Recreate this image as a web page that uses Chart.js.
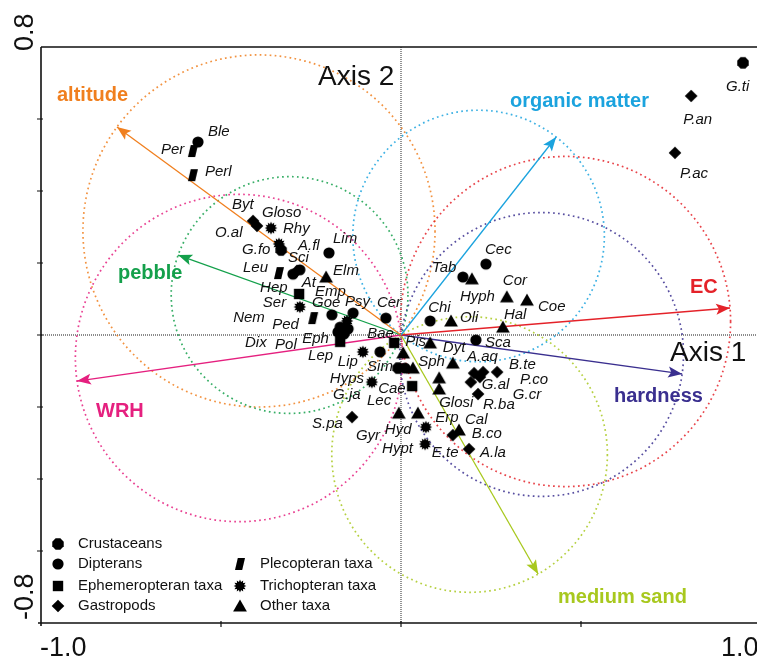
<!DOCTYPE html>
<html lang="en">
<head>
<meta charset="UTF-8">
<title>Ordination biplot</title>
<script src="https://cdn.jsdelivr.net/npm/chart.js@4.4.0/dist/chart.umd.min.js"></script>
<style>
    html, body { margin: 0; padding: 0; background: #fff; overflow: hidden; }
    #wrap { width: 770px; height: 658px; }
</style>
</head>
<body>
<div id="wrap"><canvas id="biplot" width="770" height="658"></canvas></div>
<script>
// Taxa scores (axis 1, axis 2) and group codes
const speciesNames = ['G.ti','P.an','P.ac','Ble','Per','Perl','Byt','O.al','Gloso','Rhy','G.fo','A.fl','Sci','At','Lim','Leu','Elm','Hep','Emp','Ser','Goe','Psy','Cer','Nem','Ped','Dix','Pol','Lep','Eph','Bae','Lip','Sim','Pis','Sph','Hyps','Cae','G.ja','Lec','','S.pa','Hyd','Gyr','Hypt','E.te','Cec','Tab','Hyph','Cor','Coe','Chi','Oli','Hal','Sca','Dyt','A.aq','P.co','B.te','G.al','G.cr','R.ba','Glosi','Erp','Cal','B.co','A.la'];
const speciesX = [0.950,0.806,0.761,-0.564,-0.578,-0.578,-0.411,-0.400,-0.361,-0.339,-0.333,-0.289,-0.300,-0.281,-0.200,-0.339,-0.208,-0.283,-0.192,-0.281,-0.150,-0.133,-0.042,-0.244,-0.169,-0.175,-0.158,-0.147,-0.169,-0.019,-0.106,-0.058,0.081,0.006,-0.081,0.031,-0.008,0.011,0.033,-0.136,-0.006,0.047,0.067,0.069,0.236,0.172,0.197,0.294,0.350,0.081,0.139,0.283,0.208,0.144,0.203,0.228,0.267,0.194,0.219,0.214,0.106,0.106,0.161,0.144,0.189];
const speciesY = [0.756,0.664,0.506,0.536,0.511,0.444,0.317,0.303,0.297,0.253,0.236,0.178,0.169,0.181,0.228,0.172,0.161,0.114,0.056,0.078,0.039,0.061,0.047,0.047,0.022,0.008,0.003,0.017,-0.019,-0.022,-0.047,-0.047,-0.022,-0.050,-0.131,-0.142,-0.092,-0.092,-0.092,-0.228,-0.217,-0.217,-0.303,-0.256,0.197,0.161,0.156,0.106,0.097,0.039,0.039,0.022,-0.014,-0.078,-0.106,-0.103,-0.103,-0.131,-0.117,-0.164,-0.119,-0.150,-0.264,-0.278,-0.317];
const speciesGroup = ['C','G','G','D','P','P','G','G','T','T','C','G','D','D','D','P','O','E','D','T','T','D','D','P','D','D','D','D','E','E','T','D','O','O','T','E','C','D','O','G','O','O','T','T','D','D','O','O','O','D','O','O','D','O','G','G','G','G','G','G','O','O','O','G','G'];

const groupCodes = ['C','D','E','G','P','T','O'];
const groupNames = ['Crustaceans','Dipterans','Ephemeropteran taxa','Gastropods','Plecopteran taxa','Trichopteran taxa','Other taxa'];

// Environmental vectors
const envNames = ['altitude','organic matter','pebble','EC','WRH','hardness','medium sand'];
const envX = [-0.789, 0.431, -0.619, 0.914, -0.900, 0.781, 0.381];
const envY = [0.578, 0.550, 0.222, 0.075, -0.128, -0.108, -0.664];

// Axis ticks
const xTickValues = [-0.5, 0, 0.5];
const yTickValues = [0.6, 0.4, 0.2, 0, -0.2, -0.4, -0.6];
const xTickLabels = ['-1.0', '1.0'];
const yTickLabels = ['0.8', '-0.8'];

// Styles
const envColors = ['#F07F1E', '#1BA3DE', '#14A04B', '#E42229', '#E5207F', '#3A2F8F', '#A8C81E'];
const envLabelPos = [[57, 95], [510, 101], [118, 273], [690, 287], [96, 411], [614, 396], [558, 597]];
const groupMarker = { C: 'octagon', D: 'circle', E: 'square', G: 'diamond', P: 'parallelogram', T: 'burst', O: 'triangle' };
const labelOffset = {
    'G.ti': [-17, 24], 'P.an': [-8, 24], 'P.ac': [5, 21], 'Ble': [10, -10], 'Per': [-32, -1], 'Perl': [12, -3],
    'Byt': [-21, -16], 'O.al': [-42, 7], 'Gloso': [-9, -15], 'Rhy': [4, -15], 'G.fo': [-39, 0], 'A.fl': [1, -25],
    'Sci': [-5, -16], 'At': [2, 13], 'Lim': [4, -14], 'Leu': [-36, -5], 'Elm': [7, -6], 'Hep': [-39, -6],
    'Emp': [-17, -23], 'Ser': [-37, -4], 'Goe': [-35, -18], 'Psy': [-8, -11], 'Cer': [-9, -15], 'Nem': [-80, 0],
    'Ped': [-68, -2], 'Dix': [-93, 11], 'Pol': [-69, 11], 'Lep': [-40, 27], 'Eph': [-38, -3], 'Bae': [-27, -9],
    'Lip': [-25, 10], 'Sim': [-13, 15], 'Pis': [-25, -1], 'Sph': [15, 9], 'Hyps': [-42, -3], 'Cae': [-34, 3],
    'G.ja': [-65, 27], 'Lec': [-38, 33], 'S.pa': [-40, 7], 'Hyd': [-14, 17], 'Gyr': [-62, 23], 'Hypt': [-43, 5],
    'E.te': [6, 26], 'Cec': [-1, -14], 'Tab': [-31, -9], 'Hyph': [-12, 18], 'Cor': [-4, -16], 'Coe': [11, 7],
    'Chi': [-2, -13], 'Oli': [9, -3], 'Hal': [1, -12], 'Sca': [9, 3], 'Dyt': [-10, -15], 'A.aq': [-7, -16],
    'P.co': [37, 8], 'B.te': [12, -7], 'G.al': [11, 3], 'G.cr': [33, 18], 'R.ba': [5, 11], 'Glosi': [0, 25],
    'Erp': [-4, 29], 'Cal': [6, -10], 'B.co': [19, -1], 'A.la': [11, 4]
};
const FONT = "'Liberation Sans', Arial, sans-serif";

function makeMarker(kind) {
    const c = document.createElement('canvas');
    c.width = 16; c.height = 16;
    const g = c.getContext('2d');
    g.fillStyle = '#000';
    g.translate(8, 8);
    g.beginPath();
    if (kind === 'octagon') {
        for (let i = 0; i < 8; i++) {
            const a = Math.PI / 8 + i * Math.PI / 4;
            g.lineTo(6.2 * Math.cos(a), 6.2 * Math.sin(a));
        }
    } else if (kind === 'circle') {
        g.arc(0, 0, 5.6, 0, Math.PI * 2);
    } else if (kind === 'square') {
        g.rect(-5.2, -5.2, 10.4, 10.4);
    } else if (kind === 'diamond') {
        g.moveTo(0, -6.3); g.lineTo(6.3, 0); g.lineTo(0, 6.3); g.lineTo(-6.3, 0);
    } else if (kind === 'parallelogram') {
        g.moveTo(-2.2, -6); g.lineTo(5, -6); g.lineTo(2.2, 6); g.lineTo(-5, 6);
    } else if (kind === 'burst') {
        for (let i = 0; i < 24; i++) {
            const r = i % 2 ? 4.2 : 6.4;
            const a = i * Math.PI / 12;
            g.lineTo(r * Math.cos(a), r * Math.sin(a));
        }
    } else if (kind === 'triangle') {
        g.moveTo(0, -6.4); g.lineTo(6.9, 5.6); g.lineTo(-6.9, 5.6);
    }
    g.closePath();
    g.fill();
    return c;
}

const markers = {};
groupCodes.forEach(code => { markers[code] = makeMarker(groupMarker[code]); });

// Build datasets
const datasets = [];
groupCodes.forEach((code, gi) => {
    const pts = [];
    speciesNames.forEach((name, i) => {
        if (speciesGroup[i] === code) pts.push({ x: speciesX[i], y: speciesY[i], name: name });
    });
    datasets.push({
        label: groupNames[gi],
        data: pts,
        pointStyle: markers[code],
        pointRadius: 6,
        order: 1
    });
});
envNames.forEach((name, i) => {
    datasets.push({
        label: name,
        data: [{ x: 0, y: 0 }, { x: envX[i], y: envY[i] }],
        showLine: true,
        borderColor: envColors[i],
        borderWidth: 1.3,
        pointRadius: 0,
        order: 2
    });
});

const biplotPlugin = {
    id: 'biplot',
    beforeDatasetsDraw(chart) {
        const { ctx, chartArea: a, scales: { x, y } } = chart;
        const unit = x.getPixelForValue(1) - x.getPixelForValue(0);
        ctx.save();
        // zero lines
        ctx.strokeStyle = '#666';
        ctx.lineWidth = 1.4;
        ctx.setLineDash([1, 1]);
        ctx.beginPath();
        ctx.moveTo(a.left, y.getPixelForValue(0));
        ctx.lineTo(a.right, y.getPixelForValue(0));
        ctx.moveTo(x.getPixelForValue(0), a.top);
        ctx.lineTo(x.getPixelForValue(0), a.bottom);
        ctx.stroke();
        // dotted circles with each vector as diameter
        ctx.lineWidth = 1.7;
        ctx.setLineDash([1.7, 3.3]);
        envNames.forEach((n, i) => {
            const r = Math.hypot(envX[i], envY[i]) / 2 * unit;
            ctx.strokeStyle = envColors[i];
            ctx.globalAlpha = 0.85;
            ctx.beginPath();
            ctx.arc(x.getPixelForValue(envX[i] / 2), y.getPixelForValue(envY[i] / 2), r, 0, Math.PI * 2);
            ctx.stroke();
        });
        ctx.restore();
    },
    afterDatasetsDraw(chart) {
        const { ctx, scales: { x, y } } = chart;
        ctx.save();
        // arrowheads
        envNames.forEach((n, i) => {
            const px = x.getPixelForValue(envX[i]);
            const py = y.getPixelForValue(envY[i]);
            const ang = Math.atan2(py - y.getPixelForValue(0), px - x.getPixelForValue(0));
            ctx.save();
            ctx.translate(px, py);
            ctx.rotate(ang);
            ctx.fillStyle = envColors[i];
            ctx.beginPath();
            ctx.moveTo(0, 0);
            ctx.lineTo(-14, -5.5);
            ctx.lineTo(-11, 0);
            ctx.lineTo(-14, 5.5);
            ctx.closePath();
            ctx.fill();
            ctx.restore();
        });
        // vector labels
        ctx.font = 'bold 20px ' + FONT;
        ctx.textBaseline = 'middle';
        ctx.textAlign = 'left';
        envNames.forEach((n, i) => {
            ctx.fillStyle = envColors[i];
            ctx.fillText(n, envLabelPos[i][0], envLabelPos[i][1]);
        });
        // taxa labels
        ctx.font = 'italic 15px ' + FONT;
        ctx.fillStyle = '#111';
        speciesNames.forEach((n, i) => {
            if (!n) return;
            const off = labelOffset[n] || [6, 0];
            ctx.fillText(n, x.getPixelForValue(speciesX[i]) + off[0], y.getPixelForValue(speciesY[i]) + off[1]);
        });
        ctx.restore();
    },
    afterDraw(chart) {
        const { ctx, chartArea: a, scales: { x, y } } = chart;
        ctx.save();
        ctx.strokeStyle = '#111';
        ctx.setLineDash([]);
        // frame: top, left, bottom
        ctx.lineWidth = 1.6;
        ctx.beginPath();
        ctx.moveTo(a.left, a.top); ctx.lineTo(a.right, a.top);
        ctx.moveTo(a.left, a.top); ctx.lineTo(a.left, a.bottom + 3);
        ctx.moveTo(a.left - 3, a.bottom); ctx.lineTo(a.right, a.bottom);
        ctx.stroke();
        // ticks
        ctx.lineWidth = 1.2;
        ctx.beginPath();
        yTickValues.forEach(v => {
            const py = y.getPixelForValue(v);
            ctx.moveTo(a.left - 4, py); ctx.lineTo(a.left + 2, py);
        });
        xTickValues.forEach(v => {
            const px = x.getPixelForValue(v);
            ctx.moveTo(px, a.bottom - 2); ctx.lineTo(px, a.bottom + 4);
        });
        ctx.stroke();
        // tick labels
        ctx.fillStyle = '#111';
        ctx.font = '27px ' + FONT;
        ctx.textBaseline = 'alphabetic';
        ctx.textAlign = 'left';
        ctx.fillText(xTickLabels[0], x.getPixelForValue(-1) - 1, 656);
        ctx.fillText(xTickLabels[1], x.getPixelForValue(1) - 40, 656);
        [0.8, -0.8].forEach((v, i) => {
            ctx.save();
            ctx.translate(33, y.getPixelForValue(v) + (i === 0 ? 3 : -3));
            ctx.rotate(-Math.PI / 2);
            ctx.fillText(yTickLabels[i], i === 0 ? -1 : 0, 0);
            ctx.restore();
        });
        // axis titles
        ctx.font = '28px ' + FONT;
        ctx.textBaseline = 'middle';
        ctx.fillText('Axis 2', 318, 77);
        ctx.fillText('Axis 1', 670, 353);
        // legend
        ctx.font = '15px ' + FONT;
        const rows = [544, 564, 586, 606];
        const cols = [[58, 78], [240, 260]];
        const slots = [[0, 0], [0, 1], [0, 2], [0, 3], [1, 1], [1, 2], [1, 3]];
        groupCodes.forEach((code, i) => {
            const [c, r] = slots[i];
            const m = markers[code];
            ctx.drawImage(m, cols[c][0] - m.width / 2, rows[r] - m.height / 2);
            ctx.fillText(groupNames[i], cols[c][1], rows[r]);
        });
        ctx.restore();
    }
};

new Chart(document.getElementById('biplot'), {
    type: 'scatter',
    data: { datasets: datasets },
    options: {
        responsive: false,
        animation: false,
        devicePixelRatio: 1,
        layout: { padding: { left: 41, right: 9, top: 47, bottom: 35 } },
        plugins: { legend: { display: false }, tooltip: { enabled: false } },
        scales: {
            x: { type: 'linear', min: -1, max: 1, display: false },
            y: { type: 'linear', min: -0.8, max: 0.8, display: false }
        }
    },
    plugins: [biplotPlugin]
});
</script>
</body>
</html>
